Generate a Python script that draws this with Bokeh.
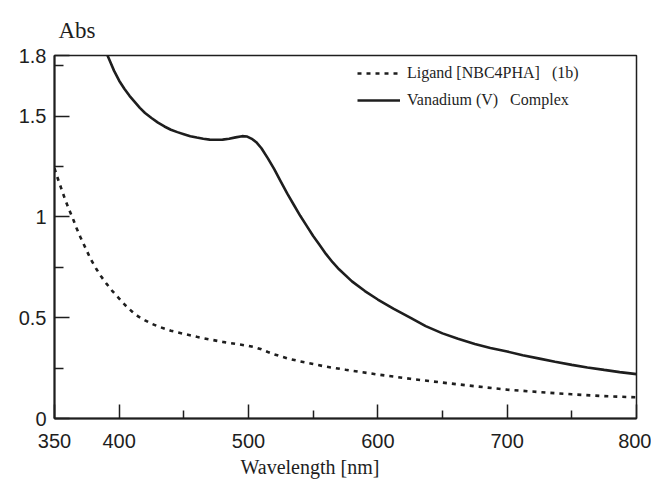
from bokeh.plotting import figure
from bokeh.models import FixedTicker, CustomJSTickFormatter, Legend, LegendItem, Range1d, Title
from bokeh.embed import file_html
from bokeh.resources import INLINE

# ---- data ----
wl_complex = [391, 393, 396, 400, 404, 408, 412, 416, 420, 425, 430, 435, 440, 445, 450,
              455, 460, 465, 470, 475, 480, 485, 490, 495, 499, 503, 506, 510, 515, 520,
              525, 530, 535, 540, 545, 550, 555, 560, 565, 570, 580, 590, 600, 612, 625,
              637, 650, 662, 675, 687, 700, 712, 725, 737, 750, 762, 775, 787, 800]
abs_complex = [1.80, 1.77, 1.725, 1.675, 1.635, 1.60, 1.57, 1.54, 1.515, 1.49, 1.467, 1.448,
               1.432, 1.42, 1.41, 1.40, 1.393, 1.387, 1.383, 1.382, 1.383, 1.387, 1.394,
               1.40, 1.398, 1.385, 1.37, 1.34, 1.29, 1.235, 1.175, 1.115, 1.06, 1.005,
               0.955, 0.905, 0.86, 0.815, 0.775, 0.74, 0.68, 0.632, 0.59, 0.545, 0.50,
               0.458, 0.422, 0.395, 0.37, 0.35, 0.332, 0.314, 0.297, 0.281, 0.266, 0.253,
               0.241, 0.23, 0.22]

wl_ligand = [350, 352, 355, 358, 361, 364, 367, 370, 374, 378, 382, 386, 390, 395, 400,
             405, 410, 415, 420, 425, 430, 440, 450, 460, 470, 480, 490, 500, 505, 510,
             515, 520, 530, 540, 550, 560, 575, 600, 625, 650, 675, 700, 725, 750, 775, 800]
abs_ligand = [1.24, 1.20, 1.145, 1.09, 1.04, 0.995, 0.945, 0.90, 0.845, 0.79, 0.745, 0.705,
              0.67, 0.63, 0.595, 0.56, 0.53, 0.505, 0.487, 0.47, 0.457, 0.435, 0.42, 0.405,
              0.392, 0.38, 0.37, 0.36, 0.353, 0.343, 0.33, 0.318, 0.298, 0.283, 0.27, 0.257,
              0.242, 0.218, 0.197, 0.178, 0.16, 0.143, 0.131, 0.12, 0.111, 0.105]

x_ticks = [350, 400, 500, 600, 700, 800]
x_minor = [450, 550, 650, 750]
y_ticks = [0, 0.5, 1, 1.5, 1.8]
y_minor = [0.25, 0.75, 1.25, 1.75]

y_title = "Abs"
x_title = "Wavelength [nm]"
legend_ligand = "Ligand [NBC4PHA]   (1b)"
legend_complex = "Vanadium (V)   Complex"

INK = "#1e1e1e"

p = figure(width=651, height=486, output_backend="svg", toolbar_location=None,
           x_range=Range1d(350, 800), y_range=Range1d(0, 1.8),
           min_border_left=54, min_border_right=15, min_border_top=55, min_border_bottom=68)
p.xgrid.visible = False
p.ygrid.visible = False
p.outline_line_color = INK
p.outline_line_width = 1.5
p.background_fill_color = "white"
p.border_fill_color = "white"

r_lig = p.line(wl_ligand, abs_ligand, line_color=INK, line_width=2.6, line_dash="4 5")
r_cpx = p.line(wl_complex, abs_complex, line_color=INK, line_width=2.6)

fmt = CustomJSTickFormatter(code="return tick.toString();")
for ax in (p.xaxis[0], p.yaxis[0]):
    ax.axis_line_width = 2
    ax.axis_line_color = INK
    ax.major_tick_line_color = INK
    ax.minor_tick_line_color = INK
    ax.major_tick_line_width = 1.5
    ax.minor_tick_line_width = 1.5
    ax.major_tick_out = 0
    ax.minor_tick_out = 0
    ax.major_label_text_font = "Liberation Sans"
    ax.major_label_text_font_size = "20px"
    ax.major_label_text_color = INK
    ax.formatter = fmt

p.xaxis[0].ticker = FixedTicker(ticks=x_ticks, minor_ticks=x_minor)
p.yaxis[0].ticker = FixedTicker(ticks=y_ticks, minor_ticks=y_minor)
p.xaxis[0].major_tick_in = 14
p.xaxis[0].minor_tick_in = 8
p.yaxis[0].major_tick_in = 15
p.yaxis[0].minor_tick_in = 9
p.xaxis[0].major_label_standoff = 15
p.yaxis[0].major_label_standoff = 8

p.title.text = y_title
p.title.align = "left"
p.title.offset = 4
p.title.text_font = "Liberation Serif"
p.title.text_font_size = "23px"
p.title.text_font_style = "normal"
p.title.text_color = INK
p.title.standoff = 25

p.add_layout(Title(text=x_title, align="left", offset=186, text_font="Liberation Serif",
                   text_font_size="20px", text_font_style="normal", text_color=INK,
                   standoff=6), "below")

legend = Legend(items=[LegendItem(label=legend_ligand, renderers=[r_lig]),
                       LegendItem(label=legend_complex, renderers=[r_cpx])],
                location=(303, 308), padding=0, margin=0, spacing=7,
                glyph_width=43, glyph_height=20, label_height=20, label_standoff=7,
                label_text_font="Liberation Serif", label_text_font_size="16px",
                label_text_color=INK, border_line_color=None,
                background_fill_alpha=0)
p.add_layout(legend)

open("out.html", "w").write(file_html(p, INLINE))
